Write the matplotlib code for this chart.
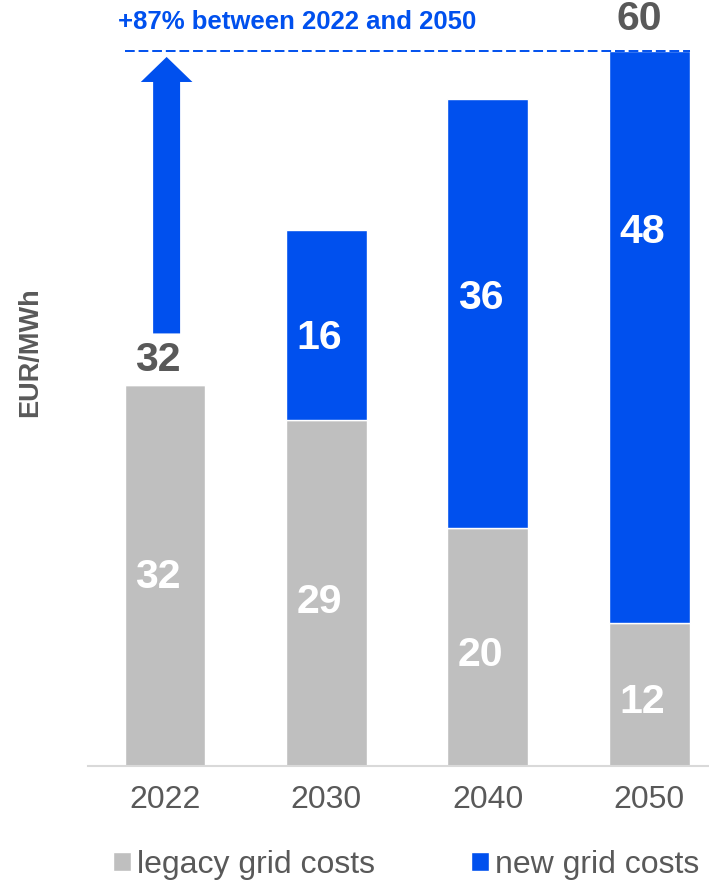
import numpy as np
import matplotlib
matplotlib.use('Agg')
import matplotlib.pyplot as plt
from matplotlib.patches import FancyArrow

plt.rcParams['font.family'] = ['Liberation Sans', 'DejaVu Sans']

# data
years = ['2022', '2030', '2040', '2050']
legacy = [32, 29, 20, 12]
new = [0, 16, 36, 48]
totals = [32, 45, 56, 60]
series_names = ['legacy grid costs', 'new grid costs']
note = '+87% between 2022 and 2050'

# label heights (layout only)
legacy_label_y = [15.9, 13.8, 9.3, 5.4]
new_label_y = [None, 35.9, 39.3, 44.8]
dx_lab = -0.045  # labels sit a bit left of centre in the original

grey = '#BFBFBF'
blue = '#0050EE'
dark = '#595959'

W, H = 709, 883
fig = plt.figure(figsize=(W / 100, H / 100), dpi=100)
base_px = 766
px_per_unit = (766 - 51) / 60.0
ax = fig.add_axes([88 / W, (H - base_px) / H, 1 - 88 / W, base_px / H])

x = np.arange(len(years))
ax.bar(x, legacy, width=0.5, color=grey, edgecolor='white', linewidth=1, label=series_names[0])
ax.bar(x, new, width=0.5, bottom=legacy, color=blue, edgecolor='white', linewidth=1, label=series_names[1])

ax.set_xlim(-0.477, 3.37)
ax.set_ylim(0, base_px / px_per_unit)

for i in range(len(years)):
    ax.text(x[i] + dx_lab, legacy_label_y[i], str(legacy[i]), ha='center', va='center',
            color='white', fontsize=29.5, fontweight='bold')
    if new[i] > 0:
        ax.text(x[i] + dx_lab, new_label_y[i], str(new[i]), ha='center', va='center',
                color='white', fontsize=29.5, fontweight='bold')

# totals on first and last bar
ax.text(x[0] + dx_lab, 34.1, str(totals[0]), ha='center', va='center', color=dark,
        fontsize=29.5, fontweight='bold')
ax.text(x[3] - 0.065, 62.7, str(totals[3]), ha='center', va='center', color=dark,
        fontsize=29.5, fontweight='bold')

# dashed reference line at 2050 total
ax.plot([x[0] - 0.25, x[3] + 0.25], [totals[3], totals[3]], color=blue, lw=1.4,
        linestyle=(0, (5, 2)), zorder=1)

# growth arrow
ax.add_patch(FancyArrow(x[0] + 0.01, 36.3, 0, 59.5 - 36.3, width=0.167, head_width=0.32,
                        head_length=2.1, length_includes_head=True, color=blue, lw=0))
ax.text(-0.29, 62.4, note, ha='left', va='center', color=blue, fontsize=18.5, fontweight='bold')

ax.set_xticks(x)
ax.set_xticklabels(years, fontsize=23, color=dark)
ax.tick_params(axis='x', length=0, pad=14)
ax.set_yticks([])
for s in ['top', 'left', 'right']:
    ax.spines[s].set_visible(False)
ax.spines['bottom'].set_color('#D9D9D9')
ax.spines['bottom'].set_linewidth(1.5)

fig.text(30 / W, 1 - 352 / H, 'EUR/MWh', rotation=90, ha='center', va='center',
         color=dark, fontsize=19.5, fontweight='bold')

leg = fig.legend(loc='center', bbox_to_anchor=(406 / W, 1 - 865 / H), ncol=2, frameon=False,
                 fontsize=23, handlelength=0.56, handleheight=0.56, handletextpad=0.2,
                 columnspacing=3.0, labelcolor=dark)

fig.savefig('out.png', dpi=100)
